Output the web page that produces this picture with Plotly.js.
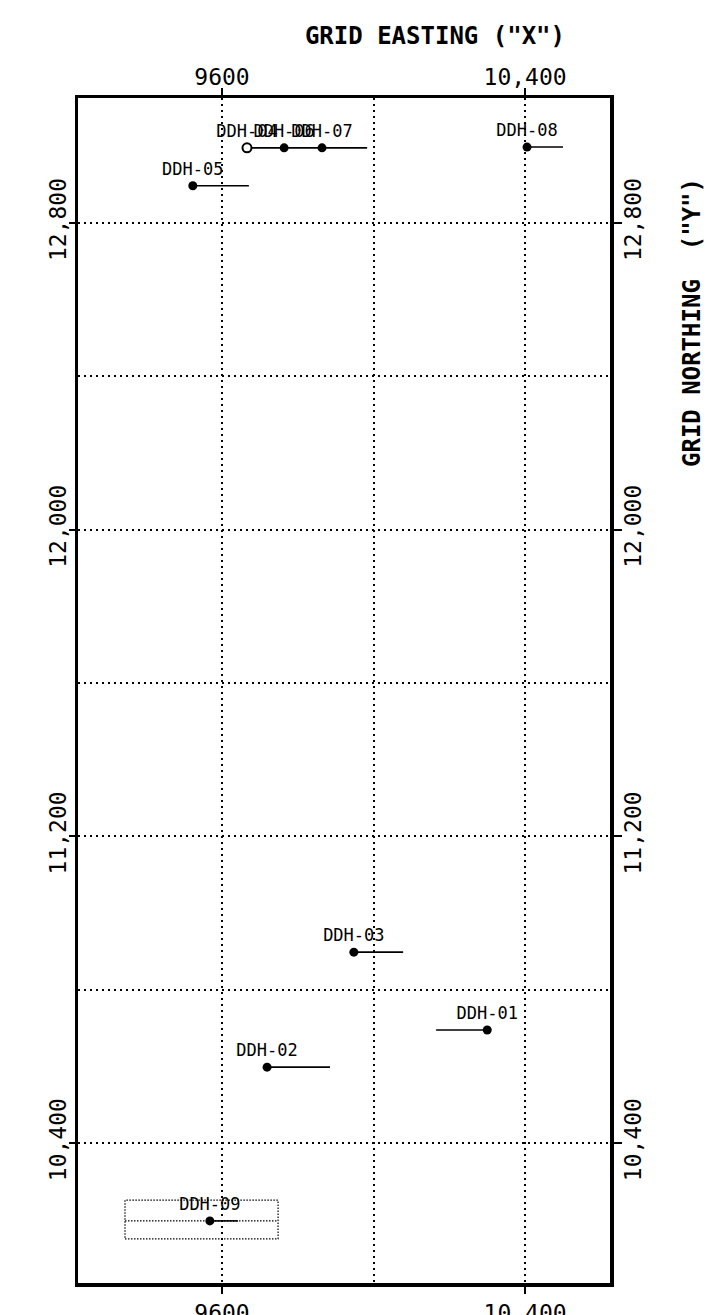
<!DOCTYPE html>
<html>
<head>
<meta charset="utf-8">
<script src="https://cdn.plot.ly/plotly-3.0.1.min.js"></script>
<style>
  html, body { margin: 0; padding: 0; background: #ffffff; }
  #chart { width: 707px; height: 1315px; }
</style>
</head>
<body>
<div id="chart"></div>
<script>
// ---- data ----
const holeNames = ['DDH-04', 'DDH-06', 'DDH-07', 'DDH-05', 'DDH-08', 'DDH-03', 'DDH-01', 'DDH-02', 'DDH-09'];
const holeEasting = [9666, 9764, 9864, 9523, 10405, 9948, 10300, 9719, 9568];
const holeNorthing = [12996, 12996, 12996, 12897, 12998, 10898, 10695, 10598, 10197];
const traceEndEasting = [9764, 9864, 9983, 9671, 10500, 10078, 10165, 9885, 9642];
const traceEndNorthing = [12996, 12996, 12996, 12897, 12998, 10898, 10695, 10598, 10197];

const insetBoxEasting = [9344, 9748];
const insetBoxNorthing = [10150, 10251];

const xTickVals = [9600, 10400];
const xTickText = ['9600', '10,400'];
const yTickVals = [10400, 11200, 12000, 12800];
const yTickText = ['10,400', '11,200', '12,000', '12,800'];

const xRange = [9220, 10624];
const yRange = [10035, 13126];

// ---- traces ----
const MONO = 'DejaVu Sans Mono, Liberation Mono, monospace';

// inset dotted box around DDH-09
const i09 = holeNames.indexOf('DDH-09');
const bx = insetBoxEasting, by = insetBoxNorthing;
const boxTrace = {
  type: 'scatter', mode: 'lines', hoverinfo: 'skip', showlegend: false,
  x: [bx[0], bx[1], bx[1], bx[0], bx[0], null, bx[0], bx[1]],
  y: [by[0], by[0], by[1], by[1], by[0], null, holeNorthing[i09], holeNorthing[i09]],
  line: { color: '#000', width: 1.2, dash: '1.5px,1.5px' }
};

// hole traces (collar to end)
const lx = [], ly = [];
holeNames.forEach((n, i) => {
  lx.push(holeEasting[i], traceEndEasting[i], null);
  ly.push(holeNorthing[i], traceEndNorthing[i], null);
});
const lineTrace = {
  type: 'scatter', mode: 'lines', hoverinfo: 'skip', showlegend: false,
  x: lx, y: ly, line: { color: '#000', width: 1.6 }
};

const collarTrace = {
  type: 'scatter', mode: 'markers+text', showlegend: false,
  x: holeEasting, y: holeNorthing, text: holeNames,
  textposition: 'top center',
  textfont: { family: MONO, size: 17, color: '#000' },
  marker: {
    color: holeNames.map(n => n === 'DDH-04' ? '#fff' : '#000'),
    size: 9, opacity: 1,
    symbol: 'circle',
    line: { color: '#000', width: holeNames.map(n => n === 'DDH-04' ? 2 : 0) }
  }
};

// invisible trace to anchor the secondary (top / right) axes
const anchorTrace = {
  type: 'scatter', mode: 'markers', xaxis: 'x2', yaxis: 'y2', hoverinfo: 'skip',
  showlegend: false, x: [xRange[0]], y: [yRange[0]], marker: { opacity: 0 }
};

const GRID_DASH = '2px,4px';
const GRID_W = 2;
const gridStyle = { showgrid: true, gridcolor: '#000', gridwidth: GRID_W, griddash: GRID_DASH };
const tickFont = { family: MONO, size: 23, color: '#000' };

const layout = {
  width: 707, height: 1315,
  paper_bgcolor: '#fff', plot_bgcolor: '#fff',
  margin: { l: 78, r: 97, t: 98, b: 32 },
  showlegend: false,
  title: {
    text: 'GRID EASTING ("X")',
    font: { family: MONO, size: 24, color: '#000', weight: 'bold' },
    xref: 'paper', x: 0.671, xanchor: 'center',
    yref: 'container', y: 1 - 36 / 1315, yanchor: 'middle'
  },
  xaxis: Object.assign({
    range: xRange, tickmode: 'array', tickvals: xTickVals, ticktext: xTickText,
    ticks: 'outside', ticklen: 7, tickwidth: 2, tickcolor: '#000',
    showline: true, linecolor: '#000', linewidth: 3.5,
    zeroline: false, tickfont: tickFont, side: 'bottom',
    minor: { dtick: 400, tick0: 9600, showgrid: true, gridcolor: '#000', gridwidth: GRID_W, griddash: GRID_DASH, ticklen: 0 }
  }, gridStyle),
  yaxis: Object.assign({
    range: yRange, tickmode: 'array', tickvals: yTickVals, ticktext: yTickText,
    ticks: 'outside', ticklen: 6, tickwidth: 2, tickcolor: '#000',
    showline: true, linecolor: '#000', linewidth: 3.5,
    zeroline: false, tickfont: tickFont, tickangle: -90, side: 'left',
    ticklabelstandoff: -7,
    minor: { dtick: 400, tick0: 10400, showgrid: true, gridcolor: '#000', gridwidth: GRID_W, griddash: GRID_DASH, ticklen: 0 }
  }, gridStyle),
  xaxis2: {
    overlaying: 'x', side: 'top', range: xRange, tickmode: 'array', tickvals: xTickVals, ticktext: xTickText,
    ticks: 'outside', ticklen: 7, tickwidth: 2, tickcolor: '#000',
    showline: true, linecolor: '#000', linewidth: 3.5, showgrid: false, zeroline: false, tickfont: tickFont,
    ticklabelstandoff: -7
  },
  yaxis2: {
    overlaying: 'y', side: 'right', range: yRange, tickmode: 'array', tickvals: yTickVals, ticktext: yTickText,
    ticks: 'outside', ticklen: 8, tickwidth: 2, tickcolor: '#000',
    showline: true, linecolor: '#000', linewidth: 3.5, showgrid: false, zeroline: false,
    tickfont: tickFont, tickangle: -90, ticklabelstandoff: -8
  },
  annotations: [{
    text: 'GRID NORTHING&nbsp;&nbsp;("Y")', textangle: -90,
    xref: 'paper', yref: 'paper', x: (692 - 78) / 532, y: (1283 - 323) / 1185,
    xanchor: 'center', yanchor: 'middle', showarrow: false,
    font: { family: MONO, size: 24, color: '#000', weight: 'bold' }
  }]
};

Plotly.newPlot('chart', [boxTrace, lineTrace, collarTrace, anchorTrace], layout, { staticPlot: true, displayModeBar: false });
</script>
</body>
</html>
